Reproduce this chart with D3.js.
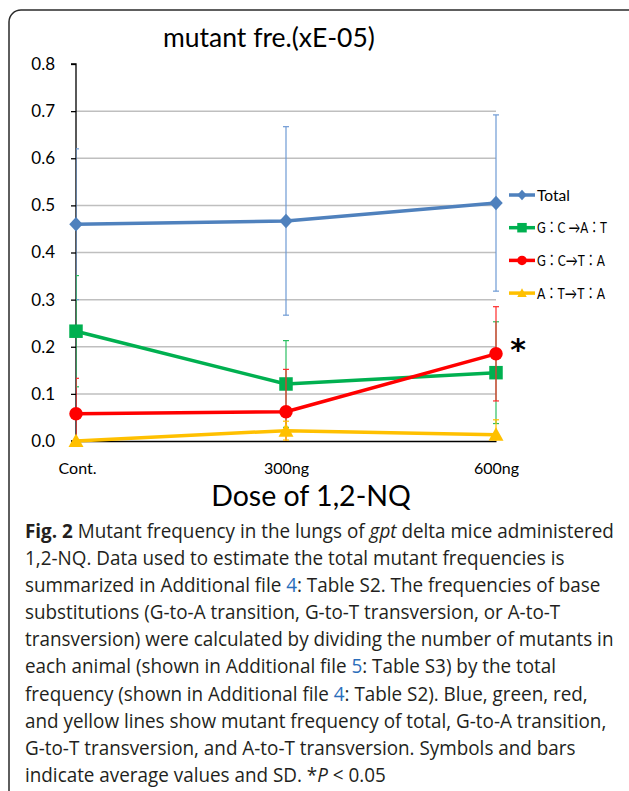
<!DOCTYPE html>
<html><head><meta charset="utf-8">
<script src="https://cdn.jsdelivr.net/npm/d3@7/dist/d3.min.js"></script>
<style>html,body{margin:0;padding:0;background:#fff;}svg{display:block;}</style>
</head><body>
<svg id="chart" width="629" height="791"></svg>
<script>
// ---------- data ----------
const categories = ["Cont.", "300ng", "600ng"];
const seriesNames = ["Total", "G：C →A：T", "G：C→T：A", "A：T→T：A"];
const totalMean = [0.460, 0.467, 0.505];
const totalSD   = [0.160, 0.200, 0.187];
const gaMean    = [0.233, 0.121, 0.145];
const gaSD      = [0.118, 0.092, 0.108];
const gtMean    = [0.058, 0.062, 0.185];
const gtSD      = [0.075, 0.090, 0.100];
const atMean    = [0.000, 0.022, 0.013];
const atSD      = [0.000, 0.020, 0.032];
const yTicks = [0, 0.1, 0.2, 0.3, 0.4, 0.5, 0.6, 0.7, 0.8];
const chartTitle = "mutant fre.(xE-05)";
const xTitle = "Dose of 1,2-NQ";
const sigMark = "*";

// ---------- layout ----------
const svg = d3.select("#chart");
const X0 = 76, X1 = 496, YT = 64, YB = 441;
const x = d3.scalePoint().domain(categories).range([X0, X1]).padding(0);
const y = d3.scaleLinear().domain([0, 0.8]).range([YB, YT]);
const chartFont = "Lato, 'Noto Sans', sans-serif";

// frame
svg.append("rect").attr("x", 9).attr("y", 10).attr("width", 650).attr("height", 800)
  .attr("rx", 12).attr("fill", "none").attr("stroke", "#2a2a2a").attr("stroke-width", 1.5);

// title
svg.append("text").attr("x", 269).attr("y", 47).attr("text-anchor", "middle")
  .attr("font-family", chartFont).attr("font-size", 26.5).attr("fill", "#000").text(chartTitle);

// gridlines
svg.append("g").selectAll("line").data(yTicks.filter(t => t > 0 && t < 0.8)).join("line")
  .attr("x1", X0).attr("x2", X1).attr("y1", d => y(d)).attr("y2", d => y(d))
  .attr("stroke", "#bfbfbf").attr("stroke-width", 1.5);

// y axis
const yAxis = svg.append("g").attr("transform", `translate(${X0},0)`)
  .call(d3.axisLeft(y).tickValues(yTicks).tickFormat(d3.format(".1f")).tickSize(5).tickPadding(16));
yAxis.select(".domain").attr("stroke", "#000").attr("stroke-width", 1.3).attr("d", `M-5,${YT}H0V${YB}H-5`);
yAxis.selectAll(".tick line").attr("stroke", "#000").attr("stroke-width", 1.3);
yAxis.selectAll(".tick text").attr("font-family", chartFont).attr("font-size", 17).attr("fill", "#000");

// x axis
const xAxis = svg.append("g").attr("transform", `translate(0,${YB})`)
  .call(d3.axisBottom(x).tickSize(0).tickPadding(22));
xAxis.select(".domain").attr("stroke", "#000").attr("stroke-width", 1.5);
xAxis.selectAll(".tick text").attr("font-family", chartFont).attr("font-size", 16).attr("fill", "#000");
xAxis.select(".tick text").attr("dx", 1);

svg.append("text").attr("x", 311).attr("y", 506).attr("text-anchor", "middle")
  .attr("font-family", chartFont).attr("font-size", 28.5).attr("fill", "#000").text(xTitle);

// clip for error bars
svg.append("clipPath").attr("id", "plotclip").append("rect")
  .attr("x", X0).attr("y", 0).attr("width", X1 - X0 + 10).attr("height", YB);

const series = [
  {name: seriesNames[0], mean: totalMean, sd: totalSD, color: "#4f81bd", ecolor: "#6e9ad4", shape: "diamond"},
  {name: seriesNames[1], mean: gaMean, sd: gaSD, color: "#00b050", ecolor: "#2bbf62", shape: "square"},
  {name: seriesNames[2], mean: gtMean, sd: gtSD, color: "#ff0000", ecolor: "#ff2a2a", shape: "circle"},
  {name: seriesNames[3], mean: atMean, sd: atSD, color: "#ffc000", ecolor: "#ffc000", shape: "triangle"}
];

function markerPath(shape, s) {
  const h = s / 2;
  if (shape === "diamond") return `M0,${-h-0.5}L${h},0L0,${h+0.5}L${-h},0Z`;
  if (shape === "square") return `M${-h},${-h}H${h}V${h}H${-h}Z`;
  if (shape === "circle") return `M${-h},0A${h},${h} 0 1,0 ${h},0A${h},${h} 0 1,0 ${-h},0Z`;
  if (shape === "triangle") return `M0,${-h}L${h},${h*0.8}L${-h},${h*0.8}Z`;
}

const line = d3.line().x((d, i) => x(categories[i])).y(d => y(d));

series.forEach(s => {
  const g = svg.append("g");
  const eb = g.append("g").attr("clip-path", "url(#plotclip)");
  categories.forEach((c, i) => {
    if (s.sd[i] <= 0) return;
    const cx = x(c), top = y(s.mean[i] + s.sd[i]), bot = y(s.mean[i] - s.sd[i]);
    eb.append("line").attr("x1", cx).attr("x2", cx).attr("y1", top).attr("y2", bot)
      .attr("stroke", s.ecolor).attr("stroke-width", 1.2);
    [top, bot].forEach(yy => eb.append("line").attr("x1", cx - 3).attr("x2", cx + 3)
      .attr("y1", yy).attr("y2", yy).attr("stroke", s.ecolor).attr("stroke-width", 1.2));
  });
  g.append("path").datum(s.mean).attr("d", line).attr("fill", "none")
    .attr("stroke", s.color).attr("stroke-width", 3.5).attr("stroke-linejoin", "round");
  g.selectAll(".m").data(s.mean).join("path")
    .attr("transform", (d, i) => `translate(${x(categories[i])},${y(d)})`)
    .attr("d", markerPath(s.shape, s.shape === "triangle" ? 15 : 13.5)).attr("fill", s.color);
});

// significance mark
svg.append("text").attr("x", 518).attr("y", 360).attr("text-anchor", "middle")
  .attr("font-family", "'DejaVu Sans', sans-serif").attr("font-weight", "bold")
  .attr("font-size", 30).attr("fill", "#000").text(sigMark);

// legend
const lg = svg.append("g");
series.forEach((s, i) => {
  const ly = 195 + i * 32.7;
  lg.append("line").attr("x1", 509).attr("x2", 535).attr("y1", ly).attr("y2", ly)
    .attr("stroke", s.color).attr("stroke-width", 3.5);
  lg.append("path").attr("transform", `translate(522,${ly})`)
    .attr("d", markerPath(s.shape, 9.5)).attr("fill", s.color);
  const t = lg.append("text").attr("x", 537).attr("y", ly + 5.5)
    .attr("font-family", "Lato, 'Noto Sans CJK JP', sans-serif").attr("font-size", 15.5).attr("fill", "#000")
    .text(s.name);
  if (i > 0) t.attr("textLength", i === 1 ? 70 : 68).attr("lengthAdjust", "spacingAndGlyphs");
});

// caption
const captionLines = [
  [["Fig. 2", "b"], [" Mutant frequency in the lungs of ", ""], ["gpt", "i"], [" delta mice administered", ""]],
  [["1,2-NQ. Data used to estimate the total mutant frequencies is", ""]],
  [["summarized in Additional file ", ""], ["4", "l"], [": Table S2. The frequencies of base", ""]],
  [["substitutions (G-to-A transition, G-to-T transversion, or A-to-T", ""]],
  [["transversion) were calculated by dividing the number of mutants in", ""]],
  [["each animal (shown in Additional file ", ""], ["5", "l"], [": Table S3) by the total", ""]],
  [["frequency (shown in Additional file ", ""], ["4", "l"], [": Table S2). Blue, green, red,", ""]],
  [["and yellow lines show mutant frequency of total, G-to-A transition,", ""]],
  [["G-to-T transversion, and A-to-T transversion. Symbols and bars", ""]],
  [["indicate average values and SD. *", ""], ["P", "i"], [" < 0.05", ""]]
];
const cap = svg.append("g");
const capTexts = captionLines.map((parts, i) => {
  const t = cap.append("text").attr("x", 0).attr("y", 538 + i * 27.1)
    .attr("font-family", "'Open Sans', sans-serif").attr("font-size", 20).attr("fill", "#231f20");
  parts.forEach(([txt, st]) => {
    const ts = t.append("tspan").text(txt);
    if (st === "b") ts.attr("font-weight", "bold");
    if (st === "i") ts.attr("font-style", "italic");
    if (st === "l") ts.attr("fill", "#2a6ebb");
  });
  return t;
});
const w0 = capTexts[0].node().getComputedTextLength();
const k = 589 / w0;
cap.attr("transform", `translate(25,0) scale(${k},1)`);
</script>
</body></html>
